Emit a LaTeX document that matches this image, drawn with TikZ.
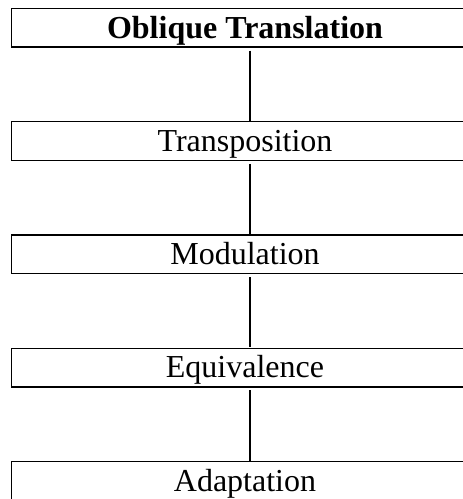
\documentclass[tikz,border=0pt]{standalone}
\usepackage{fontspec}
\setmainfont{Liberation Serif}
\usepackage{xcolor}
\usepackage{tikz}
\usetikzlibrary{positioning}
\definecolor{ink}{HTML}{000000}
\tikzset{
  stage/.style={draw=ink, line width=1.3pt, outer sep=0pt, inner sep=0pt,
    minimum width=467pt, minimum height=38.5pt, text height=22pt, text depth=1.5pt,
    font=\fontsize{32}{36}\selectfont},
  head/.style={stage, font=\fontsize{32}{36}\selectfont\bfseries},
  link/.style={draw=ink, line width=1.3pt, shorten <=3.5pt, shorten >=1pt},
}

\begin{document}
\begin{tikzpicture}[x=1pt,y=1pt]
  \useasboundingbox (0,0) rectangle (463,-499);
  \clip (0,0) rectangle (463,-499);
  \node[head] (oblique) at (245,-27.75) {Oblique Translation};
  \node[stage,below=74.8pt of oblique] (transp) {Transposition};
  \node[stage,below=74.8pt of transp] (modul) {Modulation};
  \node[stage,below=74.8pt of modul] (equiv) {Equivalence};
  \node[stage,below=74.8pt of equiv] (adapt) {Adaptation};
  \draw[link] ([xshift=5pt]oblique.south) -- ([xshift=5pt]transp.north);
  \draw[link] ([xshift=5pt]transp.south) -- ([xshift=5pt]modul.north);
  \draw[link] ([xshift=5pt]modul.south) -- ([xshift=5pt]equiv.north);
  \draw[link] ([xshift=5pt]equiv.south) -- ([xshift=5pt]adapt.north);
\end{tikzpicture}
\end{document}
